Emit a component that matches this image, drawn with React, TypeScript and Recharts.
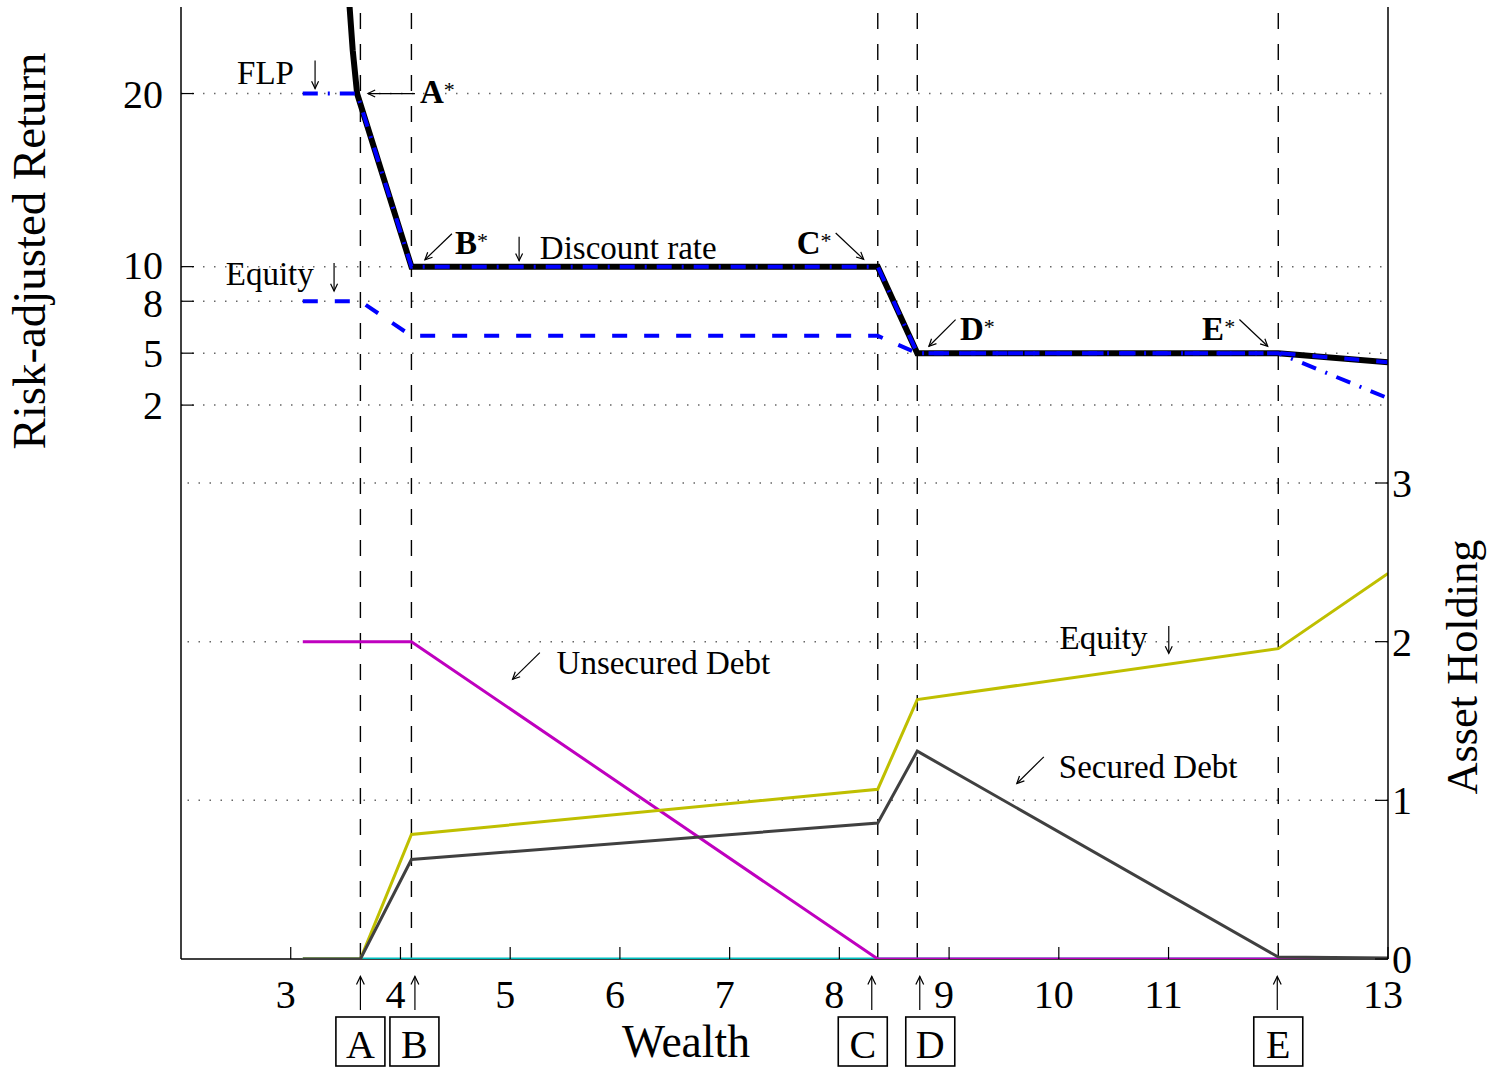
import React from "react";
import { LineChart, Line, XAxis, YAxis, ReferenceLine, ReferenceDot } from "recharts";

const FONT = '"Liberation Serif", "Times New Roman", serif';

// wealth thresholds marked by the dashed verticals
const THRESHOLD_NAMES = ["A", "B", "C", "D", "E"];
const THRESHOLDS = [3.635, 4.1, 8.35, 8.71, 12];
// small label nudges so the boxes do not collide (px)
const ARROW_SHIFT = [0, 3.5, -6, 2.5, -1];
const BOX_SHIFT = [0, 3, -15, 13, 0];

const WEALTH_TICKS = [3, 4, 5, 6, 7, 8, 9, 10, 11, 13];
const RETURN_TICKS = [2, 5, 8, 10, 20];
const HOLDING_TICKS = [0, 1, 2, 3];
const HOLDING_GRID = [1, 2, 3];

// risk-adjusted return (left axis)
const DISC_W = [3.525, 3.565, 3.605, 4.1, 8.35, 8.71, 12, 13];
const DISC_R = [26, 22.5, 20, 10, 10, 5, 5, 4.48];
const FLP_W = [3.11, 3.605, 4.1, 8.35, 8.71, 12, 13];
const FLP_R = [20, 20, 10, 10, 5, 5, 2.4];
const EQR_W = [3.11, 3.635, 4.1, 8.35, 8.71, 12, 13];
const EQR_R = [8, 8, 6, 6, 5, 5, 4.48];

// asset holdings (right axis)
const HOLD_W = [3.11, 3.635, 4.1, 8.35, 8.71, 12, 13];
const EQUITY_H = [0, 0, 0.785, 1.07, 1.635, 1.956, 2.43];
const SECURED_H = [0, 0, 0.627, 0.857, 1.31, 0.012, 0.006];
const UNSEC_W = [3.11, 4.1, 8.35, 13];
const UNSEC_H = [2, 2, 0, 0];
const FLPH_W = [3.11, 13];
const FLPH_H = [0, 0];

const zip = (xs: number[], ys: number[]) => xs.map((x, i) => ({ x, y: ys[i] }));

function Arrow({ x1, y1, x2, y2, head = 8 }: any) {
  const a = Math.atan2(y2 - y1, x2 - x1);
  const p1 = `${x2 - head * Math.cos(a - 0.45)},${y2 - head * Math.sin(a - 0.45)}`;
  const p2 = `${x2 - head * Math.cos(a + 0.45)},${y2 - head * Math.sin(a + 0.45)}`;
  return (
    <g stroke="#000" strokeWidth={1.2} fill="none">
      <line x1={x1} y1={y1} x2={x2} y2={y2} />
      <polyline points={`${p1} ${x2},${y2} ${p2}`} />
    </g>
  );
}

function Star({ letter, x, y }: any) {
  return (
    <text x={x} y={y} fontFamily={FONT} fontSize={33}>
      <tspan fontWeight="bold">{letter}</tspan>
      <tspan fontSize={22} dy={-6}>*</tspan>
    </text>
  );
}

function Txt({ x = 0, y = 0, children }: any) {
  return (
    <text x={x} y={y} fontFamily={FONT} fontSize={33} fill="#000">
      {children}
    </text>
  );
}

const note = (content: React.ReactNode) => (p: any) =>
  <g transform={`translate(${p.cx},${p.cy})`}>{content}</g>;

function WealthTick(props: any) {
  const { x, y, payload } = props;
  const v = payload.value;
  const k = THRESHOLDS.indexOf(v);
  if (k >= 0) {
    const ax = x + ARROW_SHIFT[k];
    const bx = x + BOX_SHIFT[k];
    return (
      <g>
        <Arrow x1={ax} y1={y + 51} x2={ax} y2={y + 17.5} head={9} />
        <rect x={bx - 24.5} y={y + 58} width={49} height={49} fill="none" stroke="#000" strokeWidth={1.6} />
        <text x={bx} y={y + 99} textAnchor="middle" fontFamily={FONT} fontSize={40}>{THRESHOLD_NAMES[k]}</text>
      </g>
    );
  }
  return (
    <g>
      <line x1={x} y1={y} x2={x} y2={y - 12} stroke="#000" strokeWidth={1.2} />
      <text x={x - 5} y={y + 49} textAnchor="middle" fontFamily={FONT} fontSize={40}>{v}</text>
    </g>
  );
}

function ReturnTick(props: any) {
  const { x, y, payload } = props;
  const v = payload.value;
  const nudge = v === 10 ? -2 : v === 8 ? 2 : 0;
  return (
    <g>
      <line x1={x} y1={y} x2={x + 13} y2={y} stroke="#000" strokeWidth={1.2} />
      <text x={x - 18} y={y + nudge} dy="0.35em" textAnchor="end" fontFamily={FONT} fontSize={40}>{v}</text>
    </g>
  );
}

function HoldingTick(props: any) {
  const { x, y, payload } = props;
  return (
    <g>
      <line x1={x} y1={y} x2={x - 13} y2={y} stroke="#000" strokeWidth={1.2} />
      <text x={x + 4} y={y} dy="0.35em" textAnchor="start" fontFamily={FONT} fontSize={40}>{payload.value}</text>
    </g>
  );
}

const DOTTED = { stroke: "#666", strokeDasharray: "1.5 9.5", strokeWidth: 1.5 };

export default function App() {
  return (
    <div style={{ position: "absolute", left: 0, top: 0, background: "#fff" }}>
      <LineChart width={1495} height={1071} margin={{ top: 7, right: 0, bottom: 0, left: 0 }}>
        <XAxis
          xAxisId="w"
          type="number"
          dataKey="x"
          domain={[2, 13]}
          allowDataOverflow
          ticks={[...WEALTH_TICKS, ...THRESHOLDS]}
          interval={0}
          height={112}
          tickSize={0}
          tickMargin={0}
          tickLine={false}
          axisLine={false}
          tick={(p: any) => <WealthTick {...p} />}
          label={{
            content: () => (
              <text x={686} y={1057} textAnchor="middle" fontFamily={FONT} fontSize={46} textLength={128} lengthAdjust="spacingAndGlyphs">
                Wealth
              </text>
            ),
          }}
        />
        <XAxis
          xAxisId="top"
          orientation="top"
          type="number"
          dataKey="x"
          domain={[2, 13]}
          height={0}
          tick={false}
          tickLine={false}
          axisLine={{ stroke: "#000", strokeWidth: 1.5 }}
        />
        <YAxis
          yAxisId="r"
          orientation="left"
          type="number"
          domain={[-30, 25]}
          allowDataOverflow
          ticks={RETURN_TICKS}
          interval={0}
          width={181}
          tickSize={0}
          tickMargin={0}
          tickLine={false}
          axisLine={{ stroke: "#000", strokeWidth: 1.5 }}
          tick={(p: any) => <ReturnTick {...p} />}
          label={{
            content: () => (
              <text x={45} y={251} transform="rotate(-90 45 251)" textAnchor="middle" fontFamily={FONT} fontSize={46} textLength={397} lengthAdjust="spacingAndGlyphs">
                Risk-adjusted Return
              </text>
            ),
          }}
        />
        <YAxis
          yAxisId="h"
          orientation="right"
          type="number"
          domain={[0, 6]}
          allowDataOverflow
          ticks={HOLDING_TICKS}
          interval={0}
          width={107}
          tickSize={0}
          tickMargin={0}
          tickLine={false}
          axisLine={{ stroke: "#000", strokeWidth: 1.5 }}
          tick={(p: any) => <HoldingTick {...p} />}
          label={{
            content: () => (
              <text x={1477} y={667} transform="rotate(-90 1477 667)" textAnchor="middle" fontFamily={FONT} fontSize={44} textLength={255} lengthAdjust="spacingAndGlyphs">
                Asset Holding
              </text>
            ),
          }}
        />

        {/* bottom frame, kept under the series */}
        <ReferenceLine xAxisId="w" yAxisId="h" y={0} stroke="#000" strokeWidth={1.5} />
        {RETURN_TICKS.map((v) => (
          <ReferenceLine key={`gr${v}`} xAxisId="w" yAxisId="r" y={v} {...DOTTED} />
        ))}
        {HOLDING_GRID.map((v) => (
          <ReferenceLine key={`gh${v}`} xAxisId="w" yAxisId="h" y={v} {...DOTTED} />
        ))}
        {THRESHOLDS.map((t) => (
          <ReferenceLine key={`t${t}`} xAxisId="w" yAxisId="r" x={t} stroke="#000" strokeWidth={1.4} strokeDasharray="16 15" />
        ))}

        {/* holdings */}
        <Line xAxisId="w" yAxisId="h" data={zip(FLPH_W, FLPH_H)} dataKey="y" stroke="#00bfbf" strokeWidth={3} dot={false} isAnimationActive={false} />
        <Line xAxisId="w" yAxisId="h" data={zip(UNSEC_W, UNSEC_H)} dataKey="y" stroke="#bf00bf" strokeWidth={3} dot={false} isAnimationActive={false} />
        <Line xAxisId="w" yAxisId="h" data={zip(HOLD_W, EQUITY_H)} dataKey="y" stroke="#bfbf00" strokeWidth={3} dot={false} isAnimationActive={false} />
        <Line xAxisId="w" yAxisId="h" data={zip(HOLD_W, SECURED_H)} dataKey="y" stroke="#404040" strokeWidth={3} dot={false} isAnimationActive={false} />

        {/* returns */}
        <Line xAxisId="w" yAxisId="r" data={zip(DISC_W, DISC_R)} dataKey="y" stroke="#000" strokeWidth={6} dot={false} isAnimationActive={false} />
        <Line xAxisId="w" yAxisId="r" data={zip(EQR_W, EQR_R)} dataKey="y" stroke="#0000ff" strokeWidth={4} strokeDasharray="15 17" dot={false} isAnimationActive={false} />
        <Line xAxisId="w" yAxisId="r" data={zip(FLP_W, FLP_R)} dataKey="y" stroke="#0000ff" strokeWidth={4} strokeDasharray="15 10 2 10" dot={false} isAnimationActive={false} />

        {/* annotations */}
        <ReferenceDot xAxisId="w" yAxisId="r" x={2.511} y={20.58} r={0} shape={note(<>
          <Txt>FLP</Txt>
          <Arrow x1={78} y1={-23} x2={78} y2={5} />
        </>)} />
        <ReferenceDot xAxisId="w" yAxisId="r" x={3.704} y={20} r={0} shape={note(<>
          <Arrow x1={47} y1={0} x2={0} y2={0} />
          <Star letter="A" x={52} y={9} />
        </>)} />
        <ReferenceDot xAxisId="w" yAxisId="r" x={4.223} y={10.4} r={0} shape={note(<>
          <Arrow x1={27} y1={-26} x2={0} y2={0} />
          <Star letter="B" x={30} y={-6} />
        </>)} />
        <ReferenceDot xAxisId="w" yAxisId="r" x={5.27} y={10.46} r={0} shape={note(<>
          <Arrow x1={-20.7} y1={-22} x2={-20.7} y2={2} />
          <Txt>Discount rate</Txt>
        </>)} />
        <ReferenceDot xAxisId="w" yAxisId="r" x={7.611} y={10.75} r={0} shape={note(<>
          <Star letter="C" x={0} y={0} />
          <Arrow x1={39} y1={-20.6} x2={67} y2={5.7} />
        </>)} />
        <ReferenceDot xAxisId="w" yAxisId="r" x={8.816} y={5.4} r={0} shape={note(<>
          <Arrow x1={26.7} y1={-26.7} x2={0} y2={0} />
          <Star letter="D" x={31} y={-6} />
        </>)} />
        <ReferenceDot xAxisId="w" yAxisId="r" x={11.306} y={5.747} r={0} shape={note(<>
          <Star letter="E" x={0} y={0} />
          <Arrow x1={37.3} y1={-20.7} x2={65.6} y2={6} />
        </>)} />
        <ReferenceDot xAxisId="w" yAxisId="r" x={2.408} y={8.92} r={0} shape={note(<>
          <Txt>Equity</Txt>
          <Arrow x1={108.3} y1={-22.3} x2={108.3} y2={5.7} />
        </>)} />
        <ReferenceDot xAxisId="w" yAxisId="h" x={5.4226} y={1.794} r={0} shape={note(<>
          <Arrow x1={-16.7} y1={-21.7} x2={-44} y2={5} />
          <Txt>Unsecured Debt</Txt>
        </>)} />
        <ReferenceDot xAxisId="w" yAxisId="h" x={10.006} y={1.956} r={0} shape={note(<>
          <Txt>Equity</Txt>
          <Arrow x1={109.3} y1={-22.6} x2={109.3} y2={4.7} />
        </>)} />
        <ReferenceDot xAxisId="w" yAxisId="h" x={10.0} y={1.142} r={0} shape={note(<>
          <Arrow x1={-15} y1={-21} x2={-42} y2={5.7} />
          <Txt>Secured Debt</Txt>
        </>)} />
      </LineChart>
    </div>
  );
}
